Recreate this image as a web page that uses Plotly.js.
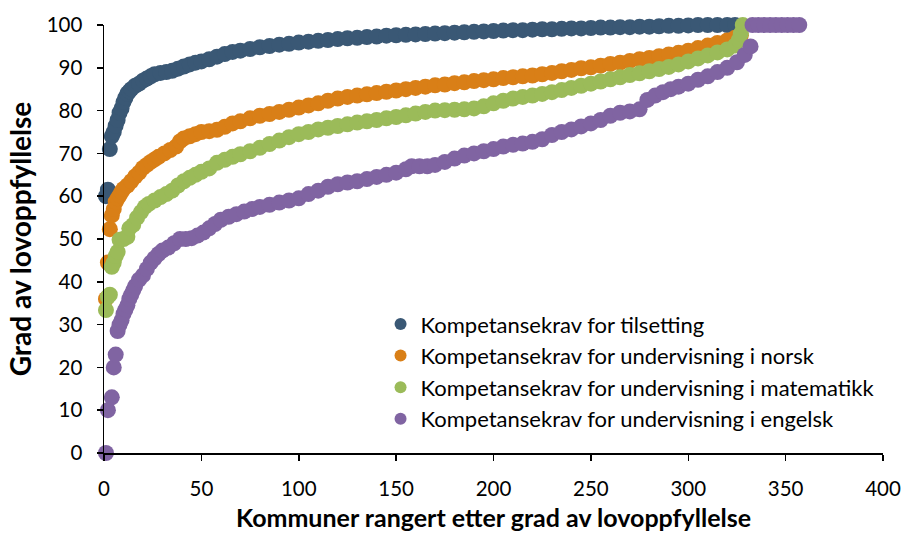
<!DOCTYPE html>
<html>
<head>
<meta charset="utf-8">
<script src="https://cdn.plot.ly/plotly-3.0.1.min.js"></script>
<style>html,body{margin:0;padding:0;background:#fff;}#chart{width:906px;height:534px;}</style>
</head>
<body>
<div id="chart"></div>
<script>
// Series names (legend)
const seriesNames = [
  "Kompetansekrav for tilsetting",
  "Kompetansekrav for undervisning i norsk",
  "Kompetansekrav for undervisning i matematikk",
  "Kompetansekrav for undervisning i engelsk"
];

// Kompetansekrav for tilsetting: rank / grad
const tilsettingRank = [1,2,3,4,5,6,7,8,9,10,11,12,13,14,16,18,20,22,24,26,29,32,35,38,41,44,47,50,54,58,62,66,70,75,80,85,90,95,100,105,110,115,120,125,130,135,140,145,150,155,160,165,170,175,180,185,190,195,200,205,210,215,220,225,230,235,240,245,250,255,260,265,270,275,280,285,290,295,300,305,310,315,320,324];
const tilsettingGrad = [60,61.5,71,74,75,76.5,77.8,79.5,80.5,82,83,84,84.5,85,85.8,86.3,87,87.5,88,88.5,88.8,89,89.3,89.8,90.3,90.8,91.2,91.5,92,92.6,93.2,93.7,94,94.4,94.8,95.1,95.4,95.6,95.9,96.1,96.3,96.5,96.7,96.9,97,97.2,97.3,97.5,97.6,97.7,97.8,97.9,98,98.1,98.2,98.3,98.4,98.5,98.6,98.7,98.8,98.8,98.9,99,99,99.1,99.2,99.2,99.3,99.4,99.4,99.5,99.5,99.6,99.6,99.7,99.8,99.8,99.9,100,100,100,100,100];

// Kompetansekrav for undervisning i norsk
const norskRank = [1,2,3,4,5,6,7,8,9,10,12,14,16,18,20,22,24,26,28,31,34,37,39,41,44,47,50,54,58,62,66,70,75,80,85,90,95,100,105,110,115,120,125,130,135,140,145,150,155,160,165,170,175,180,185,190,195,200,205,210,215,220,225,230,235,240,245,250,255,260,265,270,275,280,285,290,295,300,305,310,315,320,324,327];
const norskGrad = [36,44.5,52.3,55.5,57,58.7,59.5,60.2,61,61.7,62.5,63.5,64.6,65.5,66.6,67.3,68,68.6,69.2,70,70.8,71.6,72.8,73.5,74,74.5,75,75.2,75.5,76.2,77,77.5,78.2,78.8,79.2,79.7,80.2,80.7,81.2,81.7,82.3,82.8,83.2,83.5,83.8,84.1,84.4,84.7,85,85.3,85.6,85.9,86.1,86.4,86.6,86.9,87.1,87.3,87.6,87.8,88,88.2,88.5,88.8,89.2,89.5,89.9,90.1,90.5,90.9,91.2,91.6,92,92.3,92.7,93.1,93.5,94,94.6,95.2,95.8,96.4,97,97.6];

// Kompetansekrav for undervisning i matematikk
const matteRank = [1,2,3,4,5,6,7,8,10,12,13,15,17,19,21,23,26,29,32,35,38,41,44,47,50,54,58,62,66,70,75,80,85,90,95,100,105,110,115,120,125,130,135,140,145,150,155,160,165,170,175,180,185,190,195,200,205,210,215,220,225,230,235,240,245,250,255,260,265,270,275,280,285,290,295,300,305,310,315,320,324,326,327,328];
const matteGrad = [33.4,36.5,37,43.5,44.5,46,47,49.8,50,50.5,52.5,53.3,55,56.3,57.5,58.2,59,59.8,60.5,61.3,62.5,63.5,64.3,65,65.7,66.5,67.8,68.5,69.2,69.8,70.5,71.3,72.2,73,73.8,74.5,75,75.6,76,76.4,76.8,77.2,77.5,77.8,78.2,78.5,78.9,79.3,79.7,80,80.1,80.2,80.3,80.5,81,81.7,82.3,82.8,83.2,83.5,83.9,84.3,84.8,85.3,85.8,86.3,86.8,87.3,87.8,88.3,88.7,89.2,89.7,90.2,90.8,91.5,92.2,92.9,93.6,94.3,95.2,96.5,98,100];

// Kompetansekrav for undervisning i engelsk
const engelskRank = [1,2,4,5,6,7,8,9,10,11,12,13,14,15,16,18,20,22,24,26,28,30,33,36,39,42,45,48,51,54,57,60,64,68,72,76,80,85,90,95,100,105,110,115,120,125,130,135,140,145,150,155,158,162,166,170,175,180,185,190,195,200,205,210,215,220,225,230,235,240,245,250,255,260,265,270,275,279,283,287,291,295,300,305,310,315,320,325,329,332,333,336,339,342,345,348,351,354,357];
const engelskGrad = [0,10,13,20,23,28.5,30,31,32.5,33.5,34.5,36,37,38,39,40.5,41.5,43,44.5,45.5,46.5,47.3,48,49,50,50,50.2,50.8,51.5,52.5,53.5,54.5,55.2,55.8,56.4,57,57.5,58,58.5,59,59.5,60.5,61.3,62.2,62.8,63.2,63.5,64,64.5,65,65.5,66.3,67,67,67,67.3,68,68.8,69.5,70,70.5,71,71.6,72,72.3,72.7,73.3,74.3,75,75.6,76.3,77,77.8,78.8,79.5,79.8,80.3,82.5,83.5,84.3,85,85.6,86.3,87.2,88,89,90,91.3,93,95,100,100,100,100,100,100,100,100,100];

const colors = ["#3A5875", "#D97F17", "#9BBB59", "#8064A2"];
const ranks = [tilsettingRank, norskRank, matteRank, engelskRank];
const grads = [tilsettingGrad, norskGrad, matteGrad, engelskGrad];

const xTicks = [0,50,100,150,200,250,300,350,400];
const yTicks = [0,10,20,30,40,50,60,70,80,90,100];

const FONT = "Lato, 'Open Sans', 'Liberation Sans', sans-serif";

const traces = seriesNames.map((name, i) => ({
  type: "scatter",
  mode: "markers",
  name: name,
  x: ranks[i],
  y: grads[i],
  cliponaxis: false,
  marker: {size: 16, color: colors[i], line: {width: 0}}
}));

const layout = {
  width: 906,
  height: 534,
  margin: {l: 104, r: 23, t: 25, b: 81},
  paper_bgcolor: "#fff",
  plot_bgcolor: "#fff",
  font: {family: FONT, size: 20, color: "#000"},
  showlegend: true,
  legend: {
    x: 0.355, y: 0.35, xanchor: "left", yanchor: "top",
    bgcolor: "rgba(0,0,0,0)",
    font: {family: FONT, size: 22, color: "#000"},
    itemsizing: "constant",
    itemwidth: 30,
    tracegroupgap: 0
  },
  xaxis: {
    range: [0, 400],
    tickvals: xTicks,
    ticktext: xTicks.map(String),
    showgrid: false, zeroline: false,
    showline: true, linecolor: "#000", linewidth: 1.5,
    ticks: "outside", ticklen: 6, tickcolor: "#000", tickwidth: 1.5,
    ticklabelstandoff: 11,
    tickfont: {family: FONT, size: 20.5, color: "#000"},
    title: {text: "Kommuner rangert etter grad av lovoppfyllelse", font: {family: FONT, size: 25, color: "#000", weight: "bold"}, standoff: 10}
  },
  yaxis: {
    range: [0, 100],
    tickvals: yTicks,
    ticktext: yTicks.map(String),
    showgrid: false, zeroline: false,
    showline: true, linecolor: "#000", linewidth: 1.5,
    ticks: "outside", ticklen: 6, tickcolor: "#000", tickwidth: 1.5,
    ticklabelstandoff: 10,
    tickfont: {family: FONT, size: 20.5, color: "#000"},
    title: {text: "Grad av lovoppfyllelse", font: {family: FONT, size: 28, color: "#000", weight: "bold"}, standoff: 7}
  }
};

Plotly.newPlot("chart", traces, layout, {displayModeBar: false, staticPlot: true});
</script>
</body>
</html>
